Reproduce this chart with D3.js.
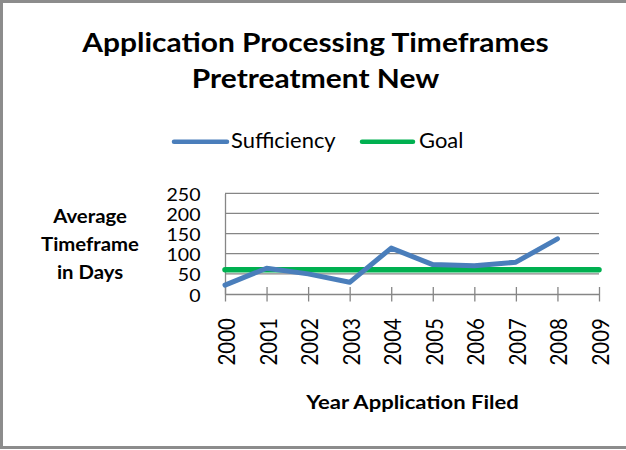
<!DOCTYPE html>
<html>
<head>
<meta charset="utf-8">
<script src="https://cdn.jsdelivr.net/npm/d3@7"></script>
<style>
  html, body { margin: 0; padding: 0; background: #fff; }
  svg { display: block; }
  text { font-family: Lato, "Open Sans", "Liberation Sans", sans-serif; fill: #000; }
</style>
</head>
<body>
<script>
// Chart data
const years = ["2000", "2001", "2002", "2003", "2004", "2005", "2006", "2007", "2008", "2009"];
const sufficiency = [22, 64, 50, 29, 114, 73, 70, 79, 137, null];
const goal = [60, 60, 60, 60, 60, 60, 60, 60, 60, 60];
const yTicks = [0, 50, 100, 150, 200, 250];
const titleLines = ["Application Processing Timeframes", "Pretreatment New"];
const yTitleLines = ["Average", "Timeframe", "in Days"];
const xTitle = "Year Application Filed";
const seriesNames = ["Sufficiency", "Goal"];

const W = 626, H = 450;
const blue = "#4a7ebb", green = "#00b050", gridGray = "#868686";

const svg = d3.select("body").append("svg").attr("width", W).attr("height", H);

// Places a text with its glyphs widened horizontally by sx
function wideText(parent, str, x, y, opts) {
  const t = parent.append("text")
    .attr("transform", `translate(${x},${y}) scale(${opts.sx},1)`)
    .attr("text-anchor", opts.anchor || "start")
    .style("font-size", opts.size + "px")
    .text(str);
  if (opts.bold) t.style("font-weight", "bold");
  return t;
}

// Outer chart border (left, top, bottom visible)
svg.append("rect")
  .attr("x", 1.5).attr("y", 1.5).attr("width", W + 10).attr("height", H - 4)
  .attr("fill", "#fff").attr("stroke", "#8c8c8c").attr("stroke-width", 3);

const plot = { left: 225, right: 599, top: 193.3, bottom: 294 };

const x = d3.scalePoint().domain(years).range([plot.left, plot.right]);
const y = d3.scaleLinear().domain([0, 250]).range([plot.bottom, plot.top]);

// Title
const titleG = svg.append("g");
titleLines.forEach((s, i) =>
  wideText(titleG, s, 315.5, 51.7 + i * 36.6, { size: 26.5, sx: 1.13, bold: true, anchor: "middle" }));

// Legend
const legend = svg.append("g");
const legendItems = [
  { name: seriesNames[0], color: blue, x0: 174, x1: 227, tx: 231 },
  { name: seriesNames[1], color: green, x0: 362, x1: 413, tx: 419 }
];
legendItems.forEach(it => {
  legend.append("line").attr("x1", it.x0).attr("x2", it.x1).attr("y1", 141.7).attr("y2", 141.7)
    .attr("stroke", it.color).attr("stroke-width", 4.5).attr("stroke-linecap", "round");
  wideText(legend, it.name, it.tx, 148.3, { size: 20.5, sx: 1.07 });
});

// Horizontal gridlines
svg.append("g").selectAll("line").data(yTicks.filter(v => v > 0)).join("line")
  .attr("x1", plot.left).attr("x2", plot.right)
  .attr("y1", d => y(d)).attr("y2", d => y(d))
  .attr("stroke", gridGray).attr("stroke-width", 1.3);

// Y axis
const ySX = 1.15;
const yAxis = svg.append("g").attr("transform", `translate(${plot.left},0)`)
  .call(d3.axisLeft(y).tickValues(yTicks).tickSize(0).tickPadding(0));
yAxis.select(".domain").attr("stroke", gridGray).attr("stroke-width", 1.3);
yAxis.selectAll(".tick text")
  .attr("x", null).attr("dy", null)
  .attr("transform", `translate(-24.5,7) scale(${ySX},1)`)
  .attr("text-anchor", "end")
  .style("font-size", "17px").style("font-family", "Lato, sans-serif");

// X axis with crossing tick marks
const xAxis = svg.append("g").attr("transform", `translate(0,${plot.bottom})`)
  .call(d3.axisBottom(x).tickSizeInner(7).tickSizeOuter(0).tickPadding(0));
xAxis.select(".domain").attr("stroke", gridGray).attr("stroke-width", 1.3);
xAxis.selectAll(".tick line").attr("y1", -7).attr("y2", 7.5)
  .attr("stroke", gridGray).attr("stroke-width", 1.3);
xAxis.selectAll(".tick text")
  .attr("x", null).attr("y", null).attr("dy", null)
  .attr("text-anchor", "end")
  .attr("transform", "translate(9.5,24) scale(1.12,1) rotate(-90)")
  .style("font-size", "20.5px").style("font-family", "Lato, sans-serif");

// Axis titles
const yTitleG = svg.append("g");
yTitleLines.forEach((s, i) =>
  wideText(yTitleG, s, 90, 223.3 + i * 28, { size: 18, sx: 1.13, bold: true, anchor: "middle" }));

wideText(svg, xTitle, 412.5, 409.3, { size: 19.5, sx: 1.13, bold: true, anchor: "middle" });

// Series lines
const line = d3.line()
  .defined(d => d.v != null)
  .x(d => x(d.year)).y(d => y(d.v));

svg.append("path")
  .datum(years.map((yr, i) => ({ year: yr, v: goal[i] })))
  .attr("d", line).attr("fill", "none")
  .attr("stroke", green).attr("stroke-width", 5.5).attr("stroke-linecap", "round");

svg.append("path")
  .datum(years.map((yr, i) => ({ year: yr, v: sufficiency[i] })))
  .attr("d", line).attr("fill", "none")
  .attr("stroke", blue).attr("stroke-width", 5).attr("stroke-linecap", "round")
  .attr("stroke-linejoin", "round");
</script>
</body>
</html>
